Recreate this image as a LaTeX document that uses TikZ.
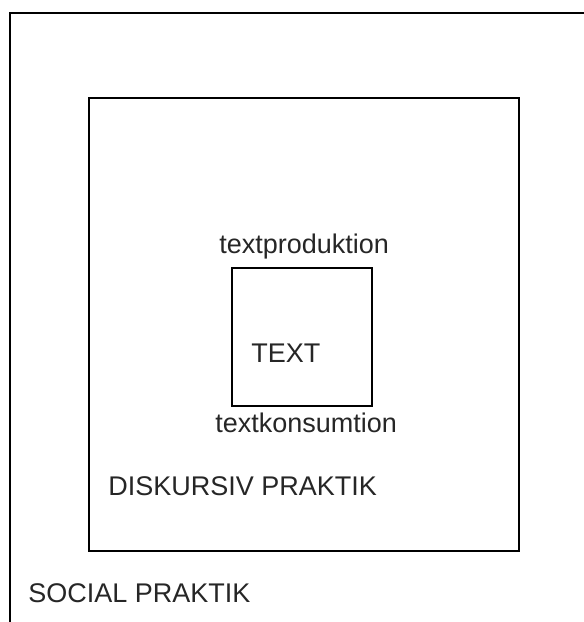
\documentclass[tikz,border=0pt]{standalone}
\usepackage{fontspec}
\setmainfont{Liberation Sans}
\tikzset{
    box/.style={draw=black, line width=0.9pt, inner sep=0pt, fill=none},
    lbl/.style={anchor=base west, inner sep=0pt, font=\fontsize{13.5}{16}\selectfont, text=black!85},
}

\begin{document}
\begin{tikzpicture}[x=0.5pt, y=-0.5pt]
    \useasboundingbox (0,0) rectangle (584,622);
    \clip (0,0) rectangle (584,622);

    % social praktik (cut off at right and bottom)
    \draw[line width=1pt] (10,13) rectangle (600,640);

    % diskursiv praktik
    \node[box, minimum width=215pt, minimum height=226.5pt] (disk) at (304,324.5){};
    % text
    \node[box, minimum width=70pt, minimum height=69pt] (text) at (302,337){};

    \node[lbl] (labProd) at (219,253){textproduktion};
    \node[lbl] (labText) at (251,362){TEXT};
    \node[lbl] (labKons) at (215,432){textkonsumtion};
    \node[lbl] (labDisk) at (108,495){DISKURSIV PRAKTIK};
    \node[lbl] (labSoc) at (28,602){SOCIAL PRAKTIK};
\end{tikzpicture}
\end{document}
